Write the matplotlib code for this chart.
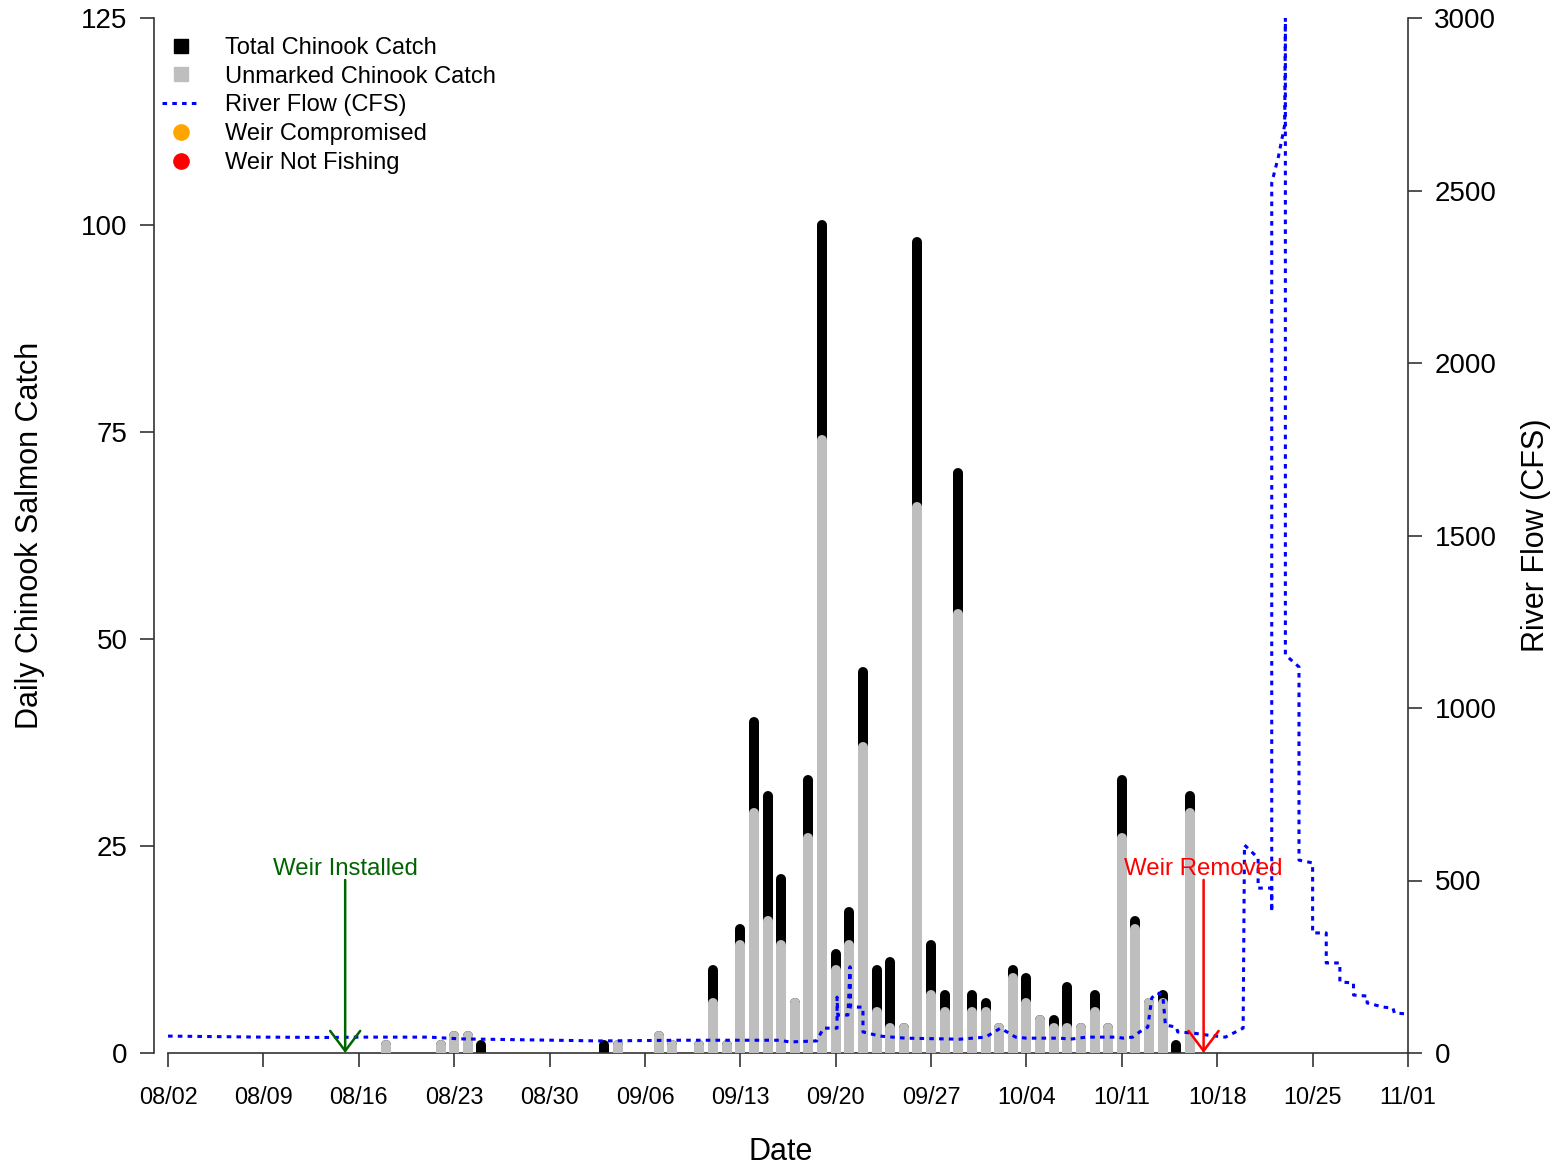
import matplotlib
matplotlib.use('Agg')
import matplotlib.pyplot as plt
from matplotlib.lines import Line2D
import pandas as pd

plt.rcParams['font.family'] = ['Liberation Sans', 'DejaVu Sans']

YEAR = 2021
START = pd.Timestamp(f'{YEAR}-08-02')

# ---------------- data ----------------
catch_dates = ['08/18', '08/22', '08/23', '08/24', '08/25', '09/03', '09/04', '09/07', '09/08',
               '09/10', '09/11', '09/12', '09/13', '09/14', '09/15', '09/16', '09/17', '09/18',
               '09/19', '09/20', '09/21', '09/22', '09/23', '09/24', '09/25', '09/26', '09/27',
               '09/28', '09/29', '09/30', '10/01', '10/02', '10/03', '10/04', '10/05', '10/06',
               '10/07', '10/08', '10/09', '10/10', '10/11', '10/12', '10/13', '10/14', '10/15',
               '10/16']
total_catch = [1, 1, 2, 2, 1, 1, 1, 2, 1,
               1, 10, 1, 15, 40, 31, 21, 6, 33,
               100, 12, 17, 46, 10, 11, 3, 98, 13,
               7, 70, 7, 6, 3, 10, 9, 4, 4,
               8, 3, 7, 3, 33, 16, 6, 7, 1,
               31]
unmarked_catch = [1, 1, 2, 2, 0, 0, 1, 2, 1,
                  1, 6, 1, 13, 29, 16, 13, 6, 26,
                  74, 10, 13, 37, 5, 3, 3, 66, 7,
                  5, 53, 5, 5, 3, 9, 6, 4, 3,
                  3, 3, 5, 3, 26, 15, 6, 6, 0,
                  29]

# river flow: days since 08/02 and flow in CFS
flow_day = [0.0, 7.0, 11.9, 14.1, 19.2, 21.4, 26.6, 31.7, 37.6, 44.9, 45.6, 47.6, 48.1,
            49.1, 49.1, 49.15, 49.9, 50.05, 50.1, 51.0, 51.0, 52.25, 54.1, 58.1, 60.0,
            61.1, 62.2, 63.0, 65.5, 66.2, 67.4, 69.6, 70.1, 70.8, 71.3, 71.9, 72.2, 72.6,
            73.0, 73.2, 74.0, 74.1, 75.2, 76.25, 77.6, 78.9, 79.0, 80.0, 80.0, 81.0, 81.0,
            81.0, 81.5, 81.95, 82.0, 82.0, 83.0, 83.0, 84.0, 84.0, 85.0, 85.0, 86.0, 86.0,
            87.0, 87.0, 88.0, 88.0, 89.2, 89.9, 90.0, 91.0]
flow_cfs = [49, 46, 45, 46, 46, 41, 38, 35, 37, 37, 32, 35, 72,
            72, 162, 110, 110, 250, 133, 133, 61, 49, 43, 40, 46,
            72, 46, 43, 43, 40, 46, 46, 43, 46, 61, 75, 160, 174,
            168, 81, 75, 61, 58, 52, 46, 72, 603, 565, 478, 478, 409,
            2522, 2600, 2690, 3000, 1154, 1119, 559, 551, 348, 348, 261, 261, 206,
            203, 168, 165, 145, 133, 130, 116, 113]

xtick_labels = ['08/02', '08/09', '08/16', '08/23', '08/30', '09/06', '09/13', '09/20',
                '09/27', '10/04', '10/11', '10/18', '10/25', '11/01']
left_ticks = [0, 25, 50, 75, 100, 125]
right_ticks = [0, 500, 1000, 1500, 2000, 2500, 3000]

weir_installed = '08/15'
weir_removed = '10/17'


def day_of(md):
    return (pd.Timestamp(f'{YEAR}-{md.replace("/", "-")}') - START).days


catch_x = [day_of(d) for d in catch_dates]
xtick_pos = [day_of(d) for d in xtick_labels]

# ---------------- figure ----------------
W, H, DPI = 1559, 1166, 100
fig = plt.figure(figsize=(W / DPI, H / DPI), dpi=DPI)
ax = fig.add_axes([154 / W, 1 - 1053 / H, (1408 - 154) / W, (1053 - 18) / H])
ax.set_xlim(-1.03, 91)
ax.set_ylim(0, 125)

AXC = '#333333'
bar_lw = 7.2
ax.vlines(catch_x, 0, total_catch, colors='black', linewidth=bar_lw, capstyle='round', zorder=2)
gx = [x for x, u in zip(catch_x, unmarked_catch) if u > 0]
gy = [u for u in unmarked_catch if u > 0]
ax.vlines(gx, 0, gy, colors='#bebebe', linewidth=bar_lw, capstyle='round', zorder=3)

# spines
ax.spines['top'].set_visible(False)
ax.spines['right'].set_visible(False)
ax.spines['left'].set_bounds(0, 125)
ax.spines['bottom'].set_bounds(0, 91)
for s in ['left', 'bottom']:
    ax.spines[s].set_color(AXC)
    ax.spines[s].set_linewidth(1.2)

ax.set_xticks(xtick_pos)
ax.set_xticklabels(xtick_labels)
ax.set_yticks(left_ticks)
ax.tick_params(axis='both', direction='out', length=10, width=1.2, color=AXC,
               labelcolor='black')
ax.tick_params(axis='x', pad=14, labelsize=16.8)
ax.tick_params(axis='y', pad=9, labelsize=20)
ax.set_xlabel('Date', fontsize=22, labelpad=20)
ax.set_ylabel('Daily Chinook Salmon Catch', fontsize=22, labelpad=26)

# river flow axis
ax2 = ax.twinx()
ax2.set_ylim(0, 3000)
ax2.plot(flow_day, flow_cfs, color='#0000ff', lw=2.2, linestyle=(0, (1.5, 1.7)),
         zorder=4)
for s in ['top', 'left', 'bottom']:
    ax2.spines[s].set_visible(False)
ax2.spines['right'].set_color(AXC)
ax2.spines['right'].set_linewidth(1.2)
ax2.set_yticks(right_ticks)
ax2.tick_params(axis='y', direction='out', length=10, width=1.2, color=AXC,
                labelsize=20, pad=9)
ax2.set_ylabel('River Flow (CFS)', fontsize=22, labelpad=18, rotation=90)

# weir annotations
for md, label, col in [(weir_installed, 'Weir Installed', '#006400'),
                       (weir_removed, 'Weir Removed', '#ff0000')]:
    d = day_of(md)
    ax2.annotate('', xy=(d, 0), xytext=(d, 20.9 * 24),
                 arrowprops=dict(arrowstyle='->,head_length=0.4,head_width=0.3',
                                 color=col, lw=1.8, shrinkA=0, shrinkB=0,
                                 mutation_scale=36), zorder=6)
    ax2.text(d, 22.25 * 24, label, color=col, fontsize=17.3, ha='center', va='center',
             zorder=6)

handles = [
    Line2D([], [], linestyle='none', marker='s', markersize=10, color='black'),
    Line2D([], [], linestyle='none', marker='s', markersize=10, color='#bebebe'),
    Line2D([], [], color='#0000ff', lw=2.2, linestyle=(0, (1.5, 1.7))),
    Line2D([], [], linestyle='none', marker='o', markersize=11, color='orange'),
    Line2D([], [], linestyle='none', marker='o', markersize=11, color='red'),
]
labels = ['Total Chinook Catch', 'Unmarked Chinook Catch', 'River Flow (CFS)',
          'Weir Compromised', 'Weir Not Fishing']
ax2.legend(handles, labels, loc='upper left', bbox_to_anchor=(8 / 1254, 1 - 19 / 1035),
           frameon=False, fontsize=17, handlelength=1.65, handletextpad=1.0,
           labelspacing=0.285, borderpad=0, borderaxespad=0)

fig.savefig('out.png', dpi=DPI)
